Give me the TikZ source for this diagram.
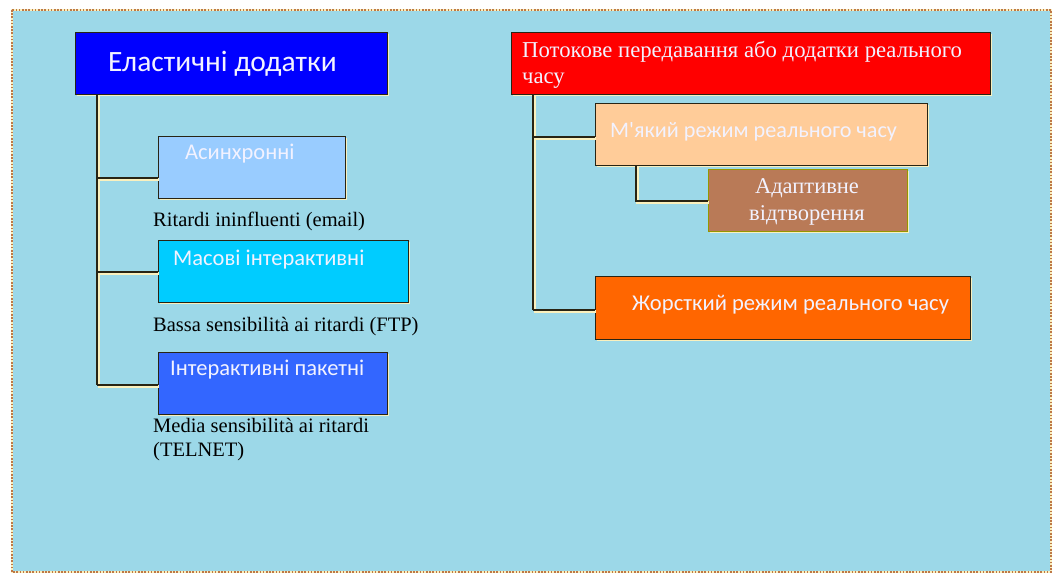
\documentclass[tikz,border=0pt]{standalone}
\usepackage{fontspec}
\setmainfont{Liberation Serif}
\newfontfamily\calfont{Carlito}
\usetikzlibrary{shadows}
\definecolor{bgblue}{RGB}{156,216,232}
\definecolor{framebrown}{RGB}{190,120,70}
\definecolor{cream}{RGB}{250,240,190}
\definecolor{linedark}{RGB}{40,36,20}
\definecolor{elastic}{RGB}{0,0,255}
\definecolor{asyncblue}{RGB}{153,204,255}
\definecolor{masscyan}{RGB}{0,204,255}
\definecolor{packetblue}{RGB}{51,102,255}
\definecolor{streamred}{RGB}{255,0,0}
\definecolor{softpeach}{RGB}{255,204,153}
\definecolor{adaptbrown}{RGB}{185,122,87}
\definecolor{adaptedge}{RGB}{150,150,0}
\definecolor{hardorange}{RGB}{255,102,0}
\definecolor{paletext}{RGB}{242,242,255}
\tikzset{
  box/.style={draw=linedark, line width=1.3pt, rectangle, anchor=north west,
    inner sep=0pt, drop shadow={shadow xshift=1.5pt, shadow yshift=-1.5pt,
    fill=cream, opacity=1}},
  boxtext/.style={anchor=base west, inner sep=0pt, text=paletext,
    font=\calfont\fontsize{22.5}{24}\selectfont},
  note/.style={anchor=base west, inner sep=0pt, font=\fontsize{20.5}{24}\selectfont,
    align=left, text=black},
  link/.style={draw=linedark, line width=2.6pt},
  linkglow/.style={draw=cream, line width=2.6pt, transform canvas={xshift=1.2pt, yshift=-1.2pt}},
}
\begin{document}
\begin{tikzpicture}[x=1pt, y=-1pt]
\useasboundingbox (0,0) rectangle (1054,573);
% panel with dotted edge
\fill[white] (0,0) rectangle (1054,573);
\fill[bgblue] (12,10) rectangle (1051,572);
\draw[cream, line width=2.6pt] (12,10) rectangle (1051,572);
\draw[framebrown, line width=2.6pt, dash pattern=on 1.6pt off 1.6pt] (12,10) rectangle (1051,572);

% ---- elastic applications ----
\node[box, fill=elastic, minimum width=312pt, minimum height=62pt] (el) at (75,32) {};
\node[boxtext, font=\calfont\fontsize{29.5}{32}\selectfont] (elt) at (108,71) {Еластичні додатки};

\node[box, fill=asyncblue, minimum width=187pt, minimum height=62pt] (as) at (158,136) {};
\node[boxtext] (ast) at (185,159) {Асинхронні};
\node[note] (asn) at (153,226) {Ritardi ininfluenti (email)};

\node[box, fill=masscyan, minimum width=250pt, minimum height=62pt] (ms) at (158,240) {};
\node[boxtext] (mst) at (173,265) {Масові інтерактивні};
\node[note] (msn) at (153,331) {Bassa sensibilità ai ritardi (FTP)};

\node[box, fill=packetblue, minimum width=229pt, minimum height=62pt] (pk) at (158,352) {};
\node[boxtext] (pkt) at (170,375) {Інтерактивні пакетні};
\node[note] (pkn) at (153,432) {Media sensibilità ai ritardi};
\node[note] (pkn2) at (153,456) {(TELNET)};

\coordinate (eltop) at (97,94);
\coordinate (asj) at (97,178);
\coordinate (msj) at (97,272);
\coordinate (pkj) at (97,385);
\foreach \s in {linkglow, link}{
  \draw[\s] (eltop) -- (pkj);
  \draw[\s] (asj) -- (as.west |- asj);
  \draw[\s] (msj) -- (ms.west |- msj);
  \draw[\s] (pkj) -- (pk.west |- pkj);
}

% ---- streaming / real-time applications ----
\node[box, fill=streamred, minimum width=479pt, minimum height=62pt] (rt) at (511,32) {};
\node[note, text=paletext, font=\fontsize{22.7}{26}\selectfont] (rtt) at (522,57)
  {Потокове передавання або додатки реального};
\node[note, text=paletext, font=\fontsize{22.7}{26}\selectfont] (rtt2) at (522,83) {часу};

\node[box, fill=softpeach, minimum width=332pt, minimum height=62pt] (sf) at (595,103) {};
\node[boxtext, font=\calfont\fontsize{22.2}{24}\selectfont] (sft) at (610,137) {М'який режим реального часу};

\node[box, draw=adaptedge, fill=adaptbrown, minimum width=199pt, minimum height=62pt] (ad) at (708,169) {};
\node[anchor=base, text=paletext, inner sep=0pt, font=\fontsize{22.5}{26}\selectfont] (adt) at (807,193) {Адаптивне};
\node[anchor=base, text=paletext, inner sep=0pt, font=\fontsize{22.5}{26}\selectfont] (adt2) at (807,220) {відтворення};

\node[box, fill=hardorange, minimum width=375pt, minimum height=63pt] (hd) at (595,276) {};
\node[boxtext, font=\calfont\fontsize{22.6}{24}\selectfont] (hdt) at (632,310) {Жорсткий режим реального часу};

\coordinate (rttop) at (533,94);
\coordinate (sfj) at (533,137);
\coordinate (hdj) at (533,310);
\coordinate (sfbot) at (636,165);
\coordinate (adj) at (636,201);
\foreach \s in {linkglow, link}{
  \draw[\s] (rttop) -- (hdj);
  \draw[\s] (sfj) -- (sf.west |- sfj);
  \draw[\s] (hdj) -- (hd.west |- hdj);
  \draw[\s] (sfbot) -- (adj) -- (ad.west |- adj);
}
\end{tikzpicture}
\end{document}
